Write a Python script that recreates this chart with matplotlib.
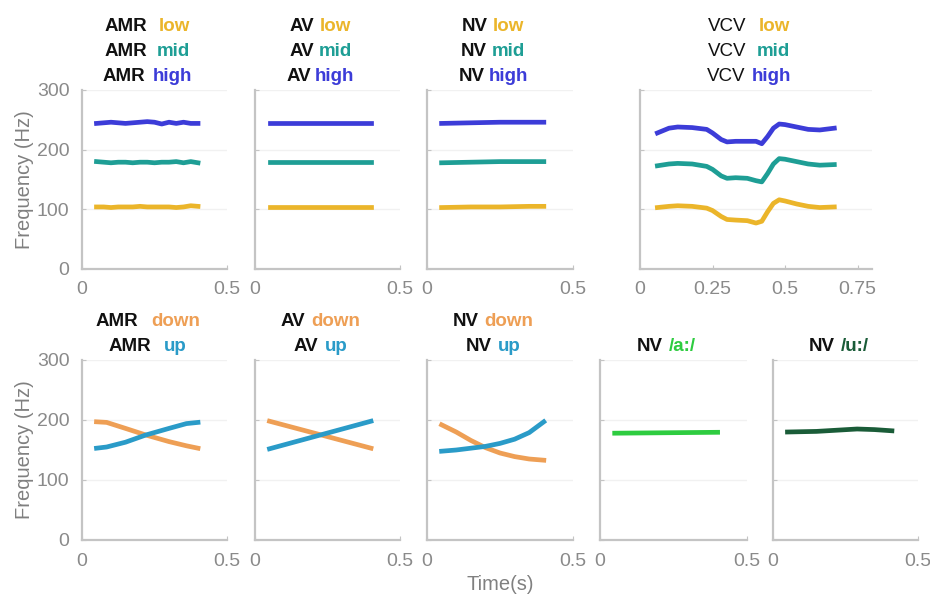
import matplotlib
matplotlib.use("Agg")
import matplotlib.pyplot as plt

plt.rcParams['font.family'] = ['Liberation Sans', 'DejaVu Sans']

# colours
c_low = '#EBB52A'
c_mid = '#1E9E95'
c_high = '#3C3CD8'
c_down = '#EE9F55'
c_up = '#2A9BC8'
c_a = '#2ECC40'
c_u = '#1A5C38'

# top row data (Hz)
t_amr = [0.05, 0.075, 0.10, 0.125, 0.15, 0.175, 0.20, 0.225, 0.25, 0.275, 0.30, 0.325, 0.35, 0.375, 0.40]
amr_high = [244, 245, 246, 245, 244, 245, 246, 247, 246, 243, 246, 244, 246, 244, 244]
amr_mid = [180, 179, 178, 179, 179, 178, 179, 179, 178, 179, 179, 180, 178, 180, 178]
amr_low = [104, 104, 103, 104, 104, 104, 105, 104, 104, 104, 104, 103, 104, 106, 105]

t_av = [0.05, 0.40]
av_high = [245, 245]
av_mid = [180, 180]
av_low = [104, 104]

t_nv = [0.05, 0.15, 0.25, 0.35, 0.40]
nv_high = [244, 245, 246, 246, 246]
nv_mid = [178, 179, 180, 180, 180]
nv_low = [103, 104, 104, 105, 105]

t_vcv = [0.06, 0.10, 0.13, 0.18, 0.23, 0.25, 0.28, 0.30, 0.33, 0.37,
         0.40, 0.42, 0.44, 0.46, 0.48, 0.50, 0.54, 0.58, 0.62, 0.67]
vcv_high = [228, 236, 238, 237, 234, 228, 217, 213, 214, 214,
            214, 210, 222, 236, 243, 242, 238, 234, 233, 236]
vcv_mid = [173, 176, 177, 176, 172, 167, 156, 152, 153, 152,
           148, 146, 160, 176, 185, 184, 180, 176, 174, 175]
vcv_low = [103, 105, 106, 105, 102, 98, 88, 83, 82, 81,
           77, 80, 96, 110, 116, 114, 109, 105, 103, 104]

# bottom row data (Hz)
t_amr2 = [0.05, 0.085, 0.15, 0.22, 0.30, 0.36, 0.40]
amr_down = [197, 196, 186, 175, 164, 157, 153]
amr_up = [153, 155, 163, 175, 186, 194, 196]

t_av2 = [0.05, 0.40]
av_down = [198, 153]
av_up = [152, 198]

t_nv2 = [0.05, 0.10, 0.15, 0.20, 0.25, 0.30, 0.35, 0.40]
nv_down = [192, 180, 166, 154, 145, 139, 135, 133]
nv_up = [148, 150, 153, 156, 161, 168, 179, 197]

t_a = [0.05, 0.40]
nv_a = [178, 179.5]
t_u = [0.05, 0.15, 0.22, 0.29, 0.35, 0.41]
nv_u = [180, 181, 183, 185, 184, 182]

W, H = 930, 596
fig = plt.figure(figsize=(W / 100, H / 100), dpi=100)


def make_ax(x0, x1, y0, y1, xmax, xticks, ylab):
    ax = fig.add_axes([x0 / W, 1 - y1 / H, (x1 - x0) / W, (y1 - y0) / H])
    ax.set_xlim(0, xmax)
    ax.set_ylim(0, 300)
    ax.set_yticks([0, 100, 200, 300])
    ax.set_xticks(xticks)
    ax.set_xticklabels([('%g' % v) for v in xticks])
    if ylab:
        ax.set_yticklabels(['0', '100', '200', '300'])
        ax.set_ylabel('Frequency (Hz)', fontsize=14.5, color='#808080', labelpad=2)
    else:
        ax.set_yticklabels([])
    for s in ['top', 'right']:
        ax.spines[s].set_visible(False)
    for s in ['left', 'bottom']:
        ax.spines[s].set_color('#c4c4c4')
        ax.spines[s].set_linewidth(1.6)
    ax.tick_params(direction='in', length=3, color='#c4c4c4', labelsize=14,
                   labelcolor='#8a8a8a', pad=9)
    ax.yaxis.grid(True, color='#f1f1f1', lw=1)
    ax.set_axisbelow(True)
    return ax


def title_lines(ax, lines, base_y, bold_black=True):
    r = fig.canvas.get_renderer()
    bb = ax.get_position()
    cx = (bb.x0 + bb.x1) / 2 * W - 7
    for i, (black, word, col, gap) in enumerate(lines):
        y = 1 - (base_y + 25 * i) / H
        t1 = fig.text(0, y, black, fontsize=13.5, color='#111111',
                      fontweight='bold' if bold_black else 'normal', va='baseline')
        t2 = fig.text(0, y, word, fontsize=13.5, color=col, fontweight='bold', va='baseline')
        w1 = t1.get_window_extent(r).width
        w2 = t2.get_window_extent(r).width
        left = cx - (w1 + gap + w2) / 2
        t1.set_x(left / W)
        t2.set_x((left + w1 + gap) / W)


lw = 3.4
half = [0, 0.5]

# top row
ax = make_ax(82, 227, 90, 269, 0.5, half, True)
ax.plot(t_amr, amr_high, color=c_high, lw=lw)
ax.plot(t_amr, amr_mid, color=c_mid, lw=lw)
ax.plot(t_amr, amr_low, color=c_low, lw=lw)
title_lines(ax, [('AMR', 'low', c_low, 12), ('AMR', 'mid', c_mid, 10), ('AMR', 'high', c_high, 7)], 31)

ax = make_ax(255, 400, 90, 269, 0.5, half, False)
ax.plot(t_av, av_high, color=c_high, lw=lw)
ax.plot(t_av, av_mid, color=c_mid, lw=lw)
ax.plot(t_av, av_low, color=c_low, lw=lw)
title_lines(ax, [('AV', 'low', c_low, 5), ('AV', 'mid', c_mid, 5), ('AV', 'high', c_high, 4)], 31)

ax = make_ax(427, 573, 90, 269, 0.5, half, False)
ax.plot(t_nv, nv_high, color=c_high, lw=lw)
ax.plot(t_nv, nv_mid, color=c_mid, lw=lw)
ax.plot(t_nv, nv_low, color=c_low, lw=lw)
title_lines(ax, [('NV', 'low', c_low, 5), ('NV', 'mid', c_mid, 5), ('NV', 'high', c_high, 4)], 31)

ax = make_ax(640, 872, 90, 269, 0.8, [0, 0.25, 0.5, 0.75], False)
ax.plot(t_vcv, vcv_high, color=c_high, lw=lw)
ax.plot(t_vcv, vcv_mid, color=c_mid, lw=lw)
ax.plot(t_vcv, vcv_low, color=c_low, lw=lw)
title_lines(ax, [('VCV', 'low', c_low, 13), ('VCV', 'mid', c_mid, 10), ('VCV', 'high', c_high, 7)], 31,
            bold_black=False)

# bottom row
ax = make_ax(82, 227, 360, 540, 0.5, half, True)
ax.plot(t_amr2, amr_down, color=c_down, lw=lw)
ax.plot(t_amr2, amr_up, color=c_up, lw=lw)
title_lines(ax, [('AMR', 'down', c_down, 13), ('AMR', 'up', c_up, 13)], 326)

ax = make_ax(255, 400, 360, 540, 0.5, half, False)
ax.plot(t_av2, av_down, color=c_down, lw=lw)
ax.plot(t_av2, av_up, color=c_up, lw=lw)
title_lines(ax, [('AV', 'down', c_down, 6), ('AV', 'up', c_up, 6)], 326)

ax = make_ax(427, 573, 360, 540, 0.5, half, False)
ax.plot(t_nv2, nv_down, color=c_down, lw=lw)
ax.plot(t_nv2, nv_up, color=c_up, lw=lw)
ax.set_xlabel('Time(s)', fontsize=14.5, color='#808080', labelpad=4)
title_lines(ax, [('NV', 'down', c_down, 6), ('NV', 'up', c_up, 6)], 326)

ax = make_ax(600, 747, 360, 540, 0.5, half, False)
ax.plot(t_a, nv_a, color=c_a, lw=lw)
title_lines(ax, [('NV', '/a:/', c_a, 6)], 351)

ax = make_ax(773, 918, 360, 540, 0.5, half, False)
ax.plot(t_u, nv_u, color=c_u, lw=lw)
title_lines(ax, [('NV', '/u:/', c_u, 6)], 351)

fig.savefig('out.png', dpi=100)
